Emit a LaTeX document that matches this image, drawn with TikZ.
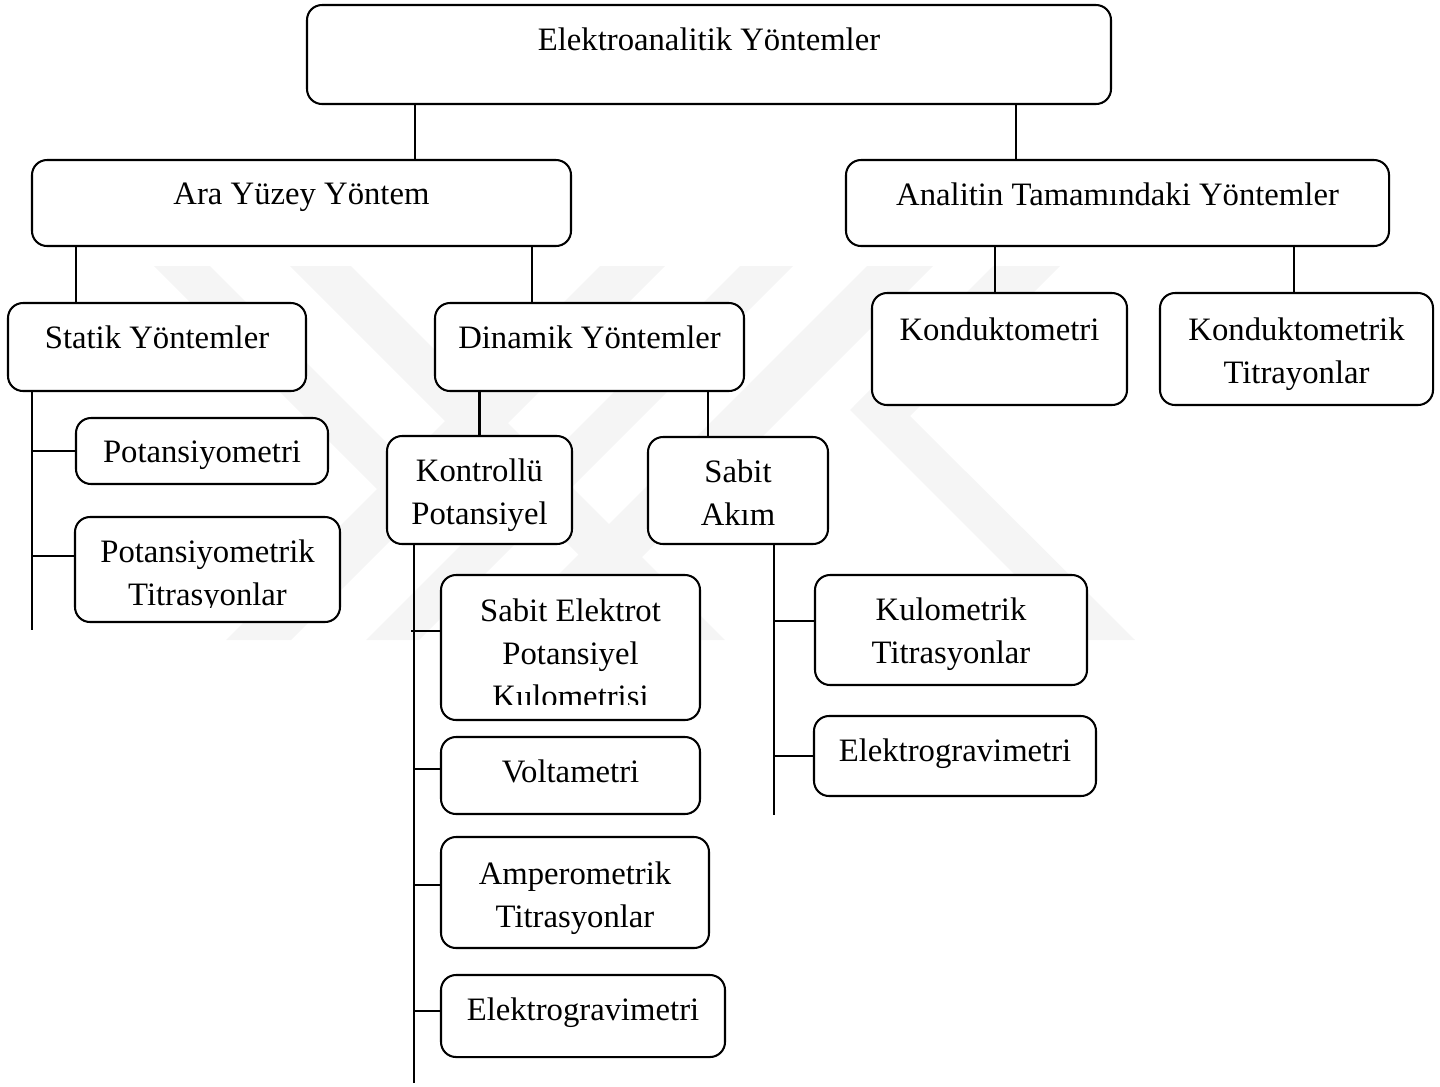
\documentclass[tikz,border=0pt]{standalone}
\usepackage{fontspec}
\setmainfont{Liberation Serif}
\usetikzlibrary{positioning,calc}
\newcommand{\px}{0.367pt}

\begin{document}
\begin{tikzpicture}[
    x=\px, y=-\px,
    font=\fontsize{12}{15.8}\selectfont,
    box/.style={draw, fill=white, rounded corners=5.5pt, line width=0.75pt,
      inner sep=0pt},
    lbl/.style={anchor=north, inner sep=0pt, align=center, yshift=-23.5*\px},
    link/.style={line width=0.75pt},
    wm/.style={fill=black!4}
]
\useasboundingbox (0,0) rectangle (1440,1086);

% faint watermark behind the chart
\fill[wm] (154,266) -- (210,266) -- (405,461) -- (377,489) -- cycle;
\fill[wm] (290,266) -- (351,266) -- (725,640) -- (664,640) -- cycle;
\fill[wm] (600,266) -- (665,266) -- (291,640) -- (226,640) -- cycle;
\fill[wm] (740,266) -- (793,266) -- (419,640) -- (366,640) -- cycle;
\fill[wm] (867,266) -- (933,266) -- (559,640) -- (493,640) -- cycle;
\fill[wm] (993,266) -- (1060,266) -- (910,416) -- (1135,640) -- (1080,640)
  -- (850,410) -- cycle;

% levels 1 and 2
\node[box, minimum width=804*\px, minimum height=99*\px,
      label={[lbl]north:Elektroanalitik Yöntemler}] (root) at (709,54.5) {};
\node[box, minimum width=539*\px, minimum height=86*\px,
      label={[lbl]north:Ara Yüzey Yöntem}] (ara) at (301.5,203) {};
\node[box, minimum width=543*\px, minimum height=86*\px,
      label={[lbl]north:Analitin Tamamındaki Yöntemler}] (anl) at (1117.5,203) {};

% level 3
\node[box, minimum width=298*\px, minimum height=88*\px,
      label={[lbl]north:Statik Yöntemler}] (stat) at (157,347) {};
\node[box, minimum width=309*\px, minimum height=88*\px,
      label={[lbl]north:Dinamik Yöntemler}] (din) at (589.5,347) {};
\node[box, minimum width=255*\px, minimum height=112*\px,
      label={[lbl, yshift=-2*\px]north:Konduktometri}] (kd) at (999.5,349) {};
\node[box, minimum width=273*\px, minimum height=112*\px,
      label={[lbl, yshift=-2*\px]north:Konduktometrik\\Titrayonlar}] (kdt) at (1296.5,349) {};

% static branch
\node[box, minimum width=252*\px, minimum height=66*\px,
      label={[lbl]north:Potansiyometri}] (pot) at (202,451) {};
\node[box, minimum width=265*\px, minimum height=105*\px] (potT) at (207.5,569.5) {};
\begin{scope}
  \clip (potT.north west) rectangle ([yshift=16*\px]potT.south east);
  \node[lbl] (potTtxt) at (potT.north) {Potansiyometrik\\Titrasyonlar};
\end{scope}

% dynamic branch
\node[box, minimum width=185*\px, minimum height=108*\px,
      label={[lbl]north:Kontrollü\\Potansiyel}] (kon) at (479.5,490) {};
\node[box, minimum width=180*\px, minimum height=107*\px,
      label={[lbl]north:Sabit\\Akım}] (sab) at (738,490.5) {};

\node[box, minimum width=259*\px, minimum height=145*\px] (sep) at (570.5,647.5) {};
\begin{scope}
  \clip (sep.north west) rectangle ([yshift=17*\px]sep.south east);
  \node[lbl, yshift=-1*\px] (septxt) at (sep.north)
    {Sabit Elektrot\\Potansiyel\\Kulometrisi};
\end{scope}
\node[box, minimum width=259*\px, minimum height=77*\px,
      label={[lbl]north:Voltametri}] (volt) at (570.5,775.5) {};
\node[box, minimum width=268*\px, minimum height=111*\px,
      label={[lbl, yshift=-2*\px]north:Amperometrik\\Titrasyonlar}] (amp) at (575,892.5) {};
\node[box, minimum width=284*\px, minimum height=82*\px,
      label={[lbl]north:Elektrogravimetri}] (egA) at (583,1016) {};

\node[box, minimum width=272*\px, minimum height=110*\px,
      label={[lbl]north:Kulometrik\\Titrasyonlar}] (kul) at (951,630) {};
\node[box, minimum width=282*\px, minimum height=80*\px,
      label={[lbl]north:Elektrogravimetri}] (egB) at (955,756) {};

% vertical links between levels
\draw[link] ([xshift=113.5*\px]ara.north) -- ([xshift=113.5*\px]ara.north |- root.south);
\draw[link] ([xshift=-101.5*\px]anl.north) -- ([xshift=-101.5*\px]anl.north |- root.south);
\draw[link] ([xshift=-81*\px]stat.north) -- ([xshift=-81*\px]stat.north |- ara.south);
\draw[link] ([xshift=-57.5*\px]din.north) -- ([xshift=-57.5*\px]din.north |- ara.south);
\draw[link] ([xshift=-4.5*\px]kd.north) -- ([xshift=-4.5*\px]kd.north |- anl.south);
\draw[link] ([xshift=-2.5*\px]kdt.north) -- ([xshift=-2.5*\px]kdt.north |- anl.south);
\draw[link] (kon.north) -- (kon.north |- din.south);
\draw[link] ([xshift=-30*\px]sab.north) -- ([xshift=-30*\px]sab.north |- din.south);

% trunks and side branches
\coordinate (statend) at (32,630);
\coordinate (konend) at (414,1083);
\coordinate (sabend) at (774,815);

\draw[link] (statend |- stat.south) -- (statend);
\draw[link] (pot.west) -- (pot.west -| statend);
\draw[link] ([yshift=13.5*\px]potT.west) -- ([yshift=13.5*\px]potT.west -| statend);

\draw[link] (konend |- kon.south) -- (konend);
\draw[link] ([yshift=16.5*\px]sep.west) -- ([yshift=16.5*\px, xshift=-3*\px]sep.west -| konend);
\draw[link] ([yshift=6.5*\px]volt.west) -- ([yshift=6.5*\px]volt.west -| konend);
\draw[link] ([yshift=7.5*\px]amp.west) -- ([yshift=7.5*\px]amp.west -| konend);
\draw[link] ([yshift=5*\px]egA.west) -- ([yshift=5*\px]egA.west -| konend);

\draw[link] (sabend |- sab.south) -- (sabend);
\draw[link] ([yshift=9*\px]kul.west) -- ([yshift=9*\px]kul.west -| sabend);
\draw[link] (egB.west) -- (egB.west -| sabend);
\end{tikzpicture}
\end{document}
